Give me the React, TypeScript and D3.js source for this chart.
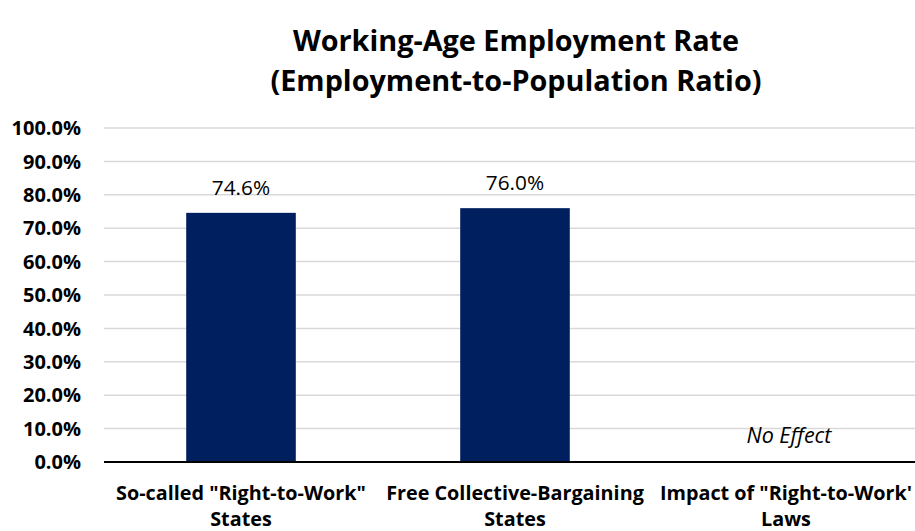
import React from "react";
import * as d3 from "d3";

const categories = [
  ["So-called \"Right-to-Work\"", "States"],
  ["Free Collective-Bargaining", "States"],
  ["Impact of \"Right-to-Work'", "Laws"],
];
const values: (number | null)[] = [0.746, 0.76, null];
const valueLabels = ["74.6%", "76.0%", "No Effect"];
const yTicks = [0, 0.1, 0.2, 0.3, 0.4, 0.5, 0.6, 0.7, 0.8, 0.9, 1.0];

const W = 915;
const H = 531;
const font = "'Open Sans', sans-serif";

export default function App() {
  const x = d3
    .scaleBand<number>()
    .domain(d3.range(categories.length))
    .range([104, 926])
    .paddingInner(0.6)
    .paddingOuter(0.3);
  const y = d3.scaleLinear().domain([0, 1]).range([462, 128]);
  const fmt = d3.format(".1%");

  return (
    <svg
      width={W}
      height={H}
      style={{ position: "absolute", left: 0, top: 0, background: "#fff" }}
      fontFamily={font}
    >
      <text x={516} y={51} textAnchor="middle" fontSize={28.8} fontWeight="bold">
        Working-Age Employment Rate
      </text>
      <text x={516} y={91} textAnchor="middle" fontSize={28.8} fontWeight="bold">
        (Employment-to-Population Ratio)
      </text>
      {yTicks.map((t) => (
        <g key={t}>
          {t > 0 && (
            <line x1={104} x2={W} y1={y(t)} y2={y(t)} stroke="#d9d9d9" strokeWidth={1.5} />
          )}
          <text
            x={81}
            y={y(t)}
            dy="0.36em"
            textAnchor="end"
            fontSize={20}
            fontWeight="bold"
          >
            {fmt(t)}
          </text>
        </g>
      ))}
      {values.map((v, i) => {
        const bx = x(i)!;
        const cx = bx + x.bandwidth() / 2;
        const lx = Math.min(cx, 786);
        return (
          <g key={i}>
            {v !== null && (
              <rect x={bx} y={y(v)} width={x.bandwidth()} height={y(0) - y(v)} fill="#001f5f" />
            )}
            <text
              x={cx}
              y={v !== null ? y(v) - 18 : y(0) - 19}
              textAnchor="middle"
              fontSize={v === null ? 21.5 : 20.8}
              fontStyle={v === null ? "italic" : "normal"}
            >
              {valueLabels[i]}
            </text>
            {categories[i].map((line, j) => (
              <text
                key={j}
                x={lx}
                y={500 + j * 26}
                textAnchor="middle"
                fontSize={19.8}
                fontWeight="bold"
              >
                {line}
              </text>
            ))}
          </g>
        );
      })}
      <line x1={104} x2={W} y1={y(0)} y2={y(0)} stroke="#000" strokeWidth={2} />
    </svg>
  );
}
